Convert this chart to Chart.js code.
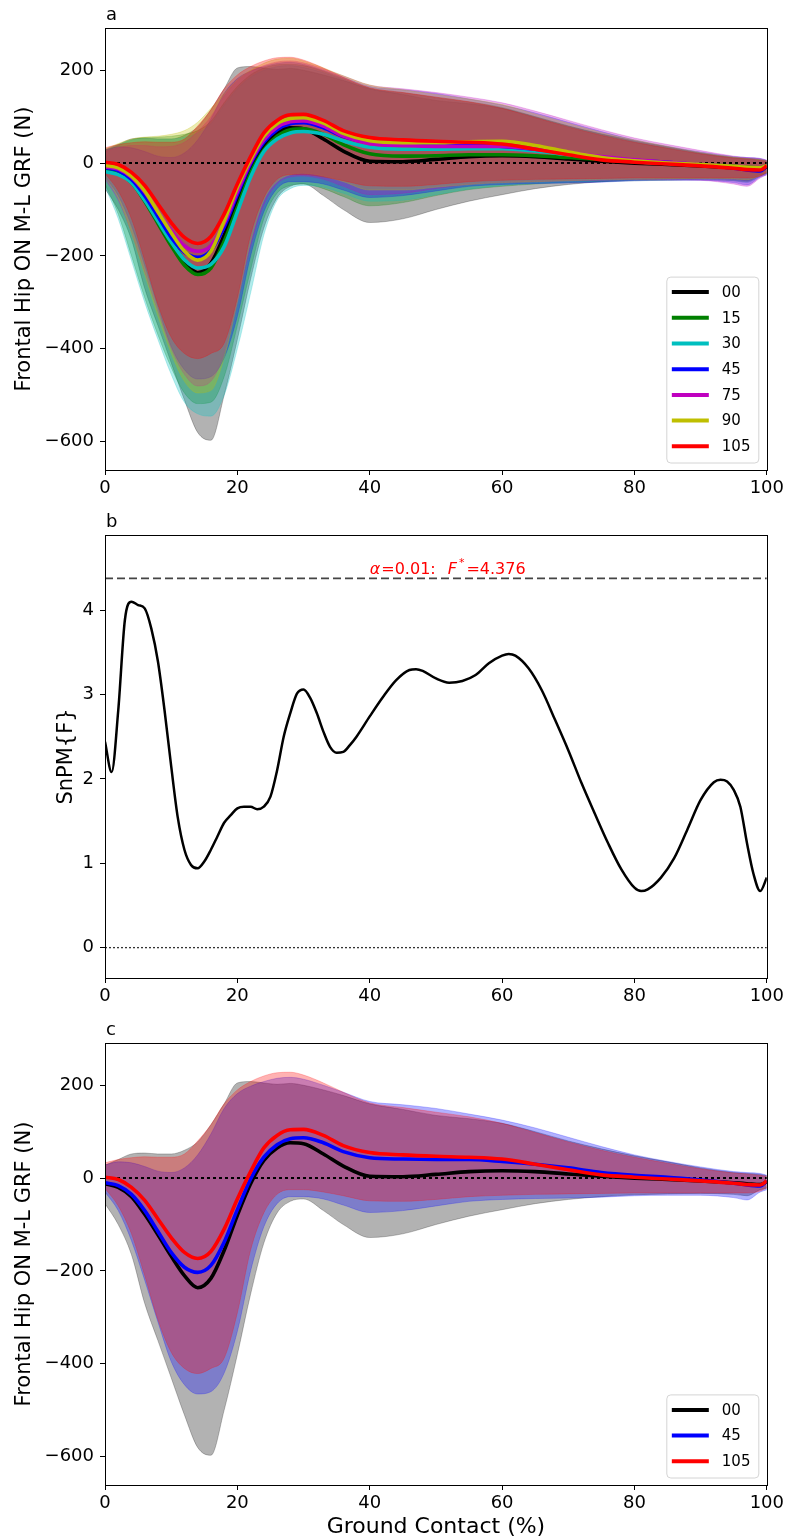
<!DOCTYPE html>
<html>
<head>
<meta charset="utf-8">
<script src="https://cdn.jsdelivr.net/npm/chart.js@4.4.0/dist/chart.umd.min.js"></script>
<style>
body { margin: 0; background: #fff; }
#wrap { position: relative; width: 787px; height: 1539px; }
canvas { position: absolute; left: 0; }
</style>
</head>
<body>
<div id="wrap">
  <canvas id="chartA" width="787" height="505" style="top:0px"></canvas>
  <canvas id="chartB" width="787" height="510" style="top:505px"></canvas>
  <canvas id="chartC" width="787" height="524" style="top:1015px"></canvas>
</div>
<script>
// ground contact (%) sample points for the GRF curves
var pct = [0,2,4,6,8,10,12,14,16,18,20,22,24,26,28,30,33,36,40,45,50,55,60,65,70,75,80,85,90,95,97,99,100];

// mean curves (N)
var mean00  = [-12,-20,-40,-78,-122,-168,-210,-236,-216,-156,-80,-12,38,65,76,74,52,26,4,3,8,14,16,14,9,4,0,-3,-6,-10,-12,-14,-8];
var mean15  = [-15,-22,-42,-82,-130,-178,-220,-240,-226,-168,-95,-22,28,58,72,74,62,40,20,15,16,18,18,16,12,8,3,0,-3,-7,-9,-10,-5];
var mean30  = [-18,-25,-42,-80,-125,-170,-208,-226,-218,-180,-105,-30,25,52,65,68,62,48,34,30,30,31,31,26,18,10,3,-1,-4,-8,-10,-11,-6];
var mean45  = [-10,-16,-35,-70,-115,-160,-192,-203,-188,-138,-68,-2,45,72,85,87,76,57,44,41,40,40,36,30,22,12,6,2,-4,-11,-15,-17,-6];
var mean75  = [-8,-13,-30,-62,-105,-145,-178,-190,-178,-130,-62,2,50,77,89,91,80,58,42,38,36,36,36,30,22,14,7,2,-3,-8,-10,-11,-5];
var mean90  = [-5,-10,-28,-60,-105,-150,-190,-209,-190,-125,-52,8,58,85,96,98,86,64,48,44,44,46,47,38,24,12,5,0,-3,-7,-9,-10,-5];
var mean105 = [2,-3,-20,-48,-88,-128,-160,-173,-158,-110,-45,14,65,92,104,105,92,70,55,50,47,45,41,30,18,7,2,-2,-6,-11,-14,-15,-6];

// band limits (N)
var hi00  = [28,40,52,54,52,52,60,78,115,160,205,208,205,202,204,200,190,178,160,148,135,128,118,100,80,63,48,35,22,12,10,8,5];
var lo00  = [-55,-100,-165,-270,-350,-430,-510,-580,-597,-500,-380,-250,-140,-75,-50,-45,-70,-100,-128,-120,-100,-82,-68,-55,-46,-40,-36,-34,-33,-35,-38,-25,-22];
var hi15  = [25,38,50,55,56,58,62,70,90,130,165,190,205,212,213,210,198,182,162,152,142,132,120,100,80,62,46,33,21,12,10,7,4];
var lo15  = [-45,-110,-200,-290,-370,-440,-495,-518,-515,-460,-350,-230,-120,-65,-48,-45,-55,-72,-92,-85,-70,-57,-50,-45,-42,-40,-38,-37,-36,-38,-40,-28,-22];
var hi30  = [30,40,50,53,52,52,56,65,85,125,160,185,200,208,210,206,195,180,160,150,140,130,118,98,78,60,45,32,20,11,9,6,4];
var lo30  = [-50,-120,-210,-300,-380,-455,-515,-540,-545,-500,-400,-280,-155,-80,-55,-48,-52,-65,-82,-80,-68,-56,-48,-44,-41,-39,-37,-36,-35,-38,-42,-28,-22];
var hi45  = [28,35,33,25,15,12,22,50,95,150,182,198,208,215,217,213,200,185,165,158,150,138,125,108,88,68,50,36,24,14,12,10,6];
var lo45  = [-30,-70,-135,-220,-310,-395,-445,-465,-460,-420,-330,-200,-105,-55,-40,-40,-45,-58,-74,-70,-60,-50,-46,-44,-43,-41,-38,-37,-37,-42,-47,-30,-25];
var hi75  = [25,33,38,38,35,36,45,68,100,145,178,198,210,218,220,216,203,188,168,160,152,142,130,112,92,72,54,40,27,15,12,10,6];
var lo75  = [-35,-80,-150,-235,-320,-400,-455,-480,-470,-410,-300,-180,-90,-45,-30,-28,-35,-50,-68,-65,-55,-46,-42,-40,-38,-37,-36,-36,-37,-45,-50,-32,-25];
var hi90  = [30,42,52,56,58,62,70,88,118,150,180,200,215,224,226,220,205,188,168,158,148,138,126,106,86,66,50,36,23,13,10,8,5];
var lo90  = [-30,-75,-150,-240,-330,-410,-470,-495,-490,-420,-300,-170,-80,-40,-25,-22,-28,-40,-58,-58,-52,-46,-42,-40,-38,-36,-35,-34,-33,-34,-36,-26,-20];
var hi105 = [33,40,44,46,45,45,52,80,115,160,190,208,220,227,228,222,205,185,162,152,142,132,118,98,78,60,45,32,20,11,9,6,4];
var lo105 = [-22,-60,-120,-210,-305,-375,-410,-421,-410,-388,-290,-155,-75,-35,-25,-25,-30,-38,-49,-50,-46,-40,-37,-35,-34,-33,-32,-32,-32,-32,-32,-28,-20];

// SnPM{F} test statistic
var pctB  = [0,1,2,3,4,5,6,7,8,9,10,11,12,13,14,15,16,17,18,19,20,21,22,23,24,25,26,27,28,29,30,31,32,33,34,35,36,37,38,40,42,44,46,47,48,50,52,54,56,58,60,61,62,64,66,68,70,72,74,76,78,80,81,82,84,86,88,90,92,93,94,95,96,97,98,99,100];
var snpmF = [2.44,2.08,2.81,3.88,4.10,4.06,4.02,3.78,3.39,2.81,2.15,1.54,1.16,0.98,0.94,1.02,1.16,1.32,1.48,1.57,1.65,1.67,1.67,1.64,1.67,1.79,2.10,2.50,2.78,3.01,3.06,2.96,2.78,2.56,2.38,2.31,2.32,2.40,2.50,2.74,2.97,3.17,3.29,3.30,3.28,3.19,3.14,3.16,3.23,3.37,3.46,3.48,3.46,3.31,3.05,2.70,2.34,1.95,1.59,1.24,0.93,0.71,0.67,0.69,0.83,1.06,1.40,1.75,1.96,1.99,1.97,1.87,1.67,1.24,0.87,0.67,0.83];
var fCrit = 4.376;
var alphaLevel = '0.01';

// axes
var pctTicks = [0, 20, 40, 60, 80, 100];
var grfTicks = [-600, -400, -200, 0, 200];
var snpmTicks = [0, 1, 2, 3, 4];
var grfRange = [-661, 291];
var snpmRange = [-0.36, 4.89];

var FONT = '"DejaVu Sans"';

var groups = {
    '00':  { line: '#000000', fill: 'rgba(0,0,0,0.3)',     mean: mean00,  lo: lo00,  hi: hi00 },
    '15':  { line: '#008000', fill: 'rgba(0,128,0,0.3)',   mean: mean15,  lo: lo15,  hi: hi15 },
    '30':  { line: '#00bfbf', fill: 'rgba(0,191,191,0.3)', mean: mean30,  lo: lo30,  hi: hi30 },
    '45':  { line: '#0000ff', fill: 'rgba(0,0,255,0.3)',   mean: mean45,  lo: lo45,  hi: hi45 },
    '75':  { line: '#bf00bf', fill: 'rgba(191,0,191,0.3)', mean: mean75,  lo: lo75,  hi: hi75 },
    '90':  { line: '#bfbf00', fill: 'rgba(191,191,0,0.3)', mean: mean90,  lo: lo90,  hi: hi90 },
    '105': { line: '#ff0000', fill: 'rgba(255,0,0,0.3)',   mean: mean105, lo: lo105, hi: hi105 }
};

function pts(xs, ys) {
    return xs.map(function(x, i) { return { x: x, y: ys[i] }; });
}

function minus(v) {
    return v < 0 ? '\u2212' + Math.abs(v) : String(v);
}

function grfDatasets(labels) {
    var sets = [];
    labels.forEach(function(k, i) {
        var g = groups[k];
        sets.push({ data: pts(pct, g.hi), borderColor: g.fill, backgroundColor: g.fill, borderWidth: 0.8,
            fill: '+1', pointRadius: 0, cubicInterpolationMode: 'monotone', order: 100 - i * 2 });
        sets.push({ data: pts(pct, g.lo), borderColor: g.fill, borderWidth: 0.8,
            fill: false, pointRadius: 0, cubicInterpolationMode: 'monotone', order: 99 - i * 2 });
    });
    sets.push({ data: [{ x: 0, y: 0 }, { x: 100, y: 0 }], borderColor: '#000', borderWidth: 2, borderDash: [3, 3],
        fill: false, pointRadius: 0, order: 50 });
    labels.forEach(function(k, i) {
        var g = groups[k];
        sets.push({ data: pts(pct, g.mean), borderColor: g.line, borderWidth: 3.6, fill: false,
            pointRadius: 0, cubicInterpolationMode: 'monotone', order: 20 - i });
    });
    return sets;
}

function xAxis(h) {
    return {
        type: 'linear', min: 0, max: 100,
        afterBuildTicks: function(s) { s.ticks = pctTicks.map(function(v) { return { value: v }; }); },
        afterFit: function(s) { s.height = h; },
        grid: { drawOnChartArea: false, drawTicks: true, tickLength: 5, color: '#000' },
        border: { color: '#000', width: 1 },
        ticks: { color: '#000', font: { size: 18, family: FONT }, padding: 3, maxRotation: 0, autoSkip: false,
            callback: function(v) { return minus(v); } }
    };
}

function yAxis(range, tickVals) {
    return {
        type: 'linear', min: range[0], max: range[1],
        afterBuildTicks: function(s) { s.ticks = tickVals.map(function(v) { return { value: v }; }); },
        afterFit: function(s) { s.width = 105; },
        grid: { drawOnChartArea: false, drawTicks: true, tickLength: 5, color: '#000' },
        border: { color: '#000', width: 1 },
        ticks: { color: '#000', font: { size: 18, family: FONT }, padding: 6, autoSkip: false,
            callback: function(v) { return minus(v); } }
    };
}

function roundBox(ctx, x, y, w, h, r) {
    ctx.beginPath();
    ctx.moveTo(x + r, y);
    ctx.arcTo(x + w, y, x + w, y + h, r);
    ctx.arcTo(x + w, y + h, x, y + h, r);
    ctx.arcTo(x, y + h, x, y, r);
    ctx.arcTo(x, y, x + w, y, r);
    ctx.closePath();
}

var decor = {
    id: 'decor',
    afterDraw: function(chart, args, o) {
        var ctx = chart.ctx, a = chart.chartArea;
        ctx.save();
        ctx.strokeStyle = '#000';
        ctx.lineWidth = 1;
        ctx.strokeRect(Math.round(a.left) + 0.5, Math.round(a.top) + 0.5, Math.round(a.right - a.left), Math.round(a.bottom - a.top));

        ctx.fillStyle = '#000';
        ctx.font = '18px ' + FONT;
        ctx.textAlign = 'left';
        ctx.textBaseline = 'alphabetic';
        ctx.fillText(o.letter, a.left + 1, a.top - 8);

        ctx.save();
        ctx.translate(o.yTitleX, (a.top + a.bottom) / 2);
        ctx.rotate(-Math.PI / 2);
        ctx.textAlign = 'center';
        ctx.textBaseline = 'middle';
        ctx.font = '21px ' + FONT;
        ctx.fillText(o.yTitle, 0, 0);
        ctx.restore();

        if (o.xTitle) {
            ctx.textAlign = 'center';
            ctx.textBaseline = 'middle';
            ctx.font = '22px ' + FONT;
            ctx.fillText(o.xTitle, (a.left + a.right) / 2, a.bottom + 42);
        }

        if (o.crit) {
            var x = chart.scales.x.getPixelForValue(40);
            var y = chart.scales.y.getPixelForValue(fCrit) - 4;
            var parts = [
                ['italic 16px ' + FONT, '\u03b1', 0, 1],
                ['16px ' + FONT, '=' + alphaLevel + ':', 0, 12],
                ['italic 16px ' + FONT, 'F', 0, 2],
                ['11px ' + FONT, '*', -8, 2],
                ['16px ' + FONT, '=' + fCrit, 0, 0]
            ];
            ctx.fillStyle = '#ff0000';
            ctx.textAlign = 'left';
            ctx.textBaseline = 'alphabetic';
            parts.forEach(function(p) {
                ctx.font = p[0];
                ctx.fillText(p[1], x, y + p[2]);
                x += ctx.measureText(p[1]).width + p[3];
            });
        }

        if (o.legend) {
            var rowH = 25.7, w = 92, h = o.legend.length * rowH + 6;
            var right = a.right - 8, bottom = a.bottom - 7;
            var left = right - w, top = bottom - h;
            roundBox(ctx, left, top, w, h, 4);
            ctx.fillStyle = 'rgba(255,255,255,0.8)';
            ctx.fill();
            ctx.strokeStyle = '#d4d4d4';
            ctx.lineWidth = 1;
            ctx.stroke();
            o.legend.forEach(function(k, i) {
                var yy = top + 15 + i * rowH;
                ctx.beginPath();
                ctx.moveTo(left + 5, yy);
                ctx.lineTo(left + 42, yy);
                ctx.strokeStyle = groups[k].line;
                ctx.lineWidth = 4;
                ctx.stroke();
                ctx.fillStyle = '#000';
                ctx.font = '15px ' + FONT;
                ctx.textAlign = 'left';
                ctx.textBaseline = 'middle';
                ctx.fillText(k, left + 55, yy + 1);
            });
        }
        ctx.restore();
    }
};

function makeOptions(padTop, xH, yRange, yTicks, dec) {
    return {
        responsive: false,
        animation: false,
        devicePixelRatio: 1,
        layout: { padding: { top: padTop, right: 19, left: 0, bottom: 0 } },
        scales: { x: xAxis(xH), y: yAxis(yRange, yTicks) },
        plugins: { legend: { display: false }, tooltip: { enabled: false }, decor: dec }
    };
}

var allGroups = ['00', '15', '30', '45', '75', '90', '105'];
var someGroups = ['00', '45', '105'];

new Chart(document.getElementById('chartA'), {
    type: 'line',
    data: { datasets: grfDatasets(allGroups) },
    options: makeOptions(28, 35, grfRange, grfTicks,
        { letter: 'a', yTitle: 'Frontal Hip ON M-L GRF (N)', yTitleX: 25, legend: allGroups }),
    plugins: [decor]
});

new Chart(document.getElementById('chartB'), {
    type: 'line',
    data: {
        datasets: [
            { data: [{ x: 0, y: 0 }, { x: 100, y: 0 }], borderColor: '#333', borderWidth: 1.3, borderDash: [2, 2],
              pointRadius: 0, fill: false, order: 3 },
            { data: [{ x: 0, y: fCrit }, { x: 100, y: fCrit }], borderColor: '#444', borderWidth: 1.8, borderDash: [8, 4],
              pointRadius: 0, fill: false, order: 2 },
            { data: pts(pctB, snpmF), borderColor: '#000', borderWidth: 2.5, pointRadius: 0, fill: false,
              cubicInterpolationMode: 'monotone', order: 1 }
        ]
    },
    options: makeOptions(30, 37, snpmRange, snpmTicks,
        { letter: 'b', yTitle: 'SnPM{F}', yTitleX: 67, crit: true }),
    plugins: [decor]
});

new Chart(document.getElementById('chartC'), {
    type: 'line',
    data: { datasets: grfDatasets(someGroups) },
    options: makeOptions(28, 54, grfRange, grfTicks,
        { letter: 'c', yTitle: 'Frontal Hip ON M-L GRF (N)', yTitleX: 25, legend: someGroups, xTitle: 'Ground Contact (%)' }),
    plugins: [decor]
});
</script>
</body>
</html>
